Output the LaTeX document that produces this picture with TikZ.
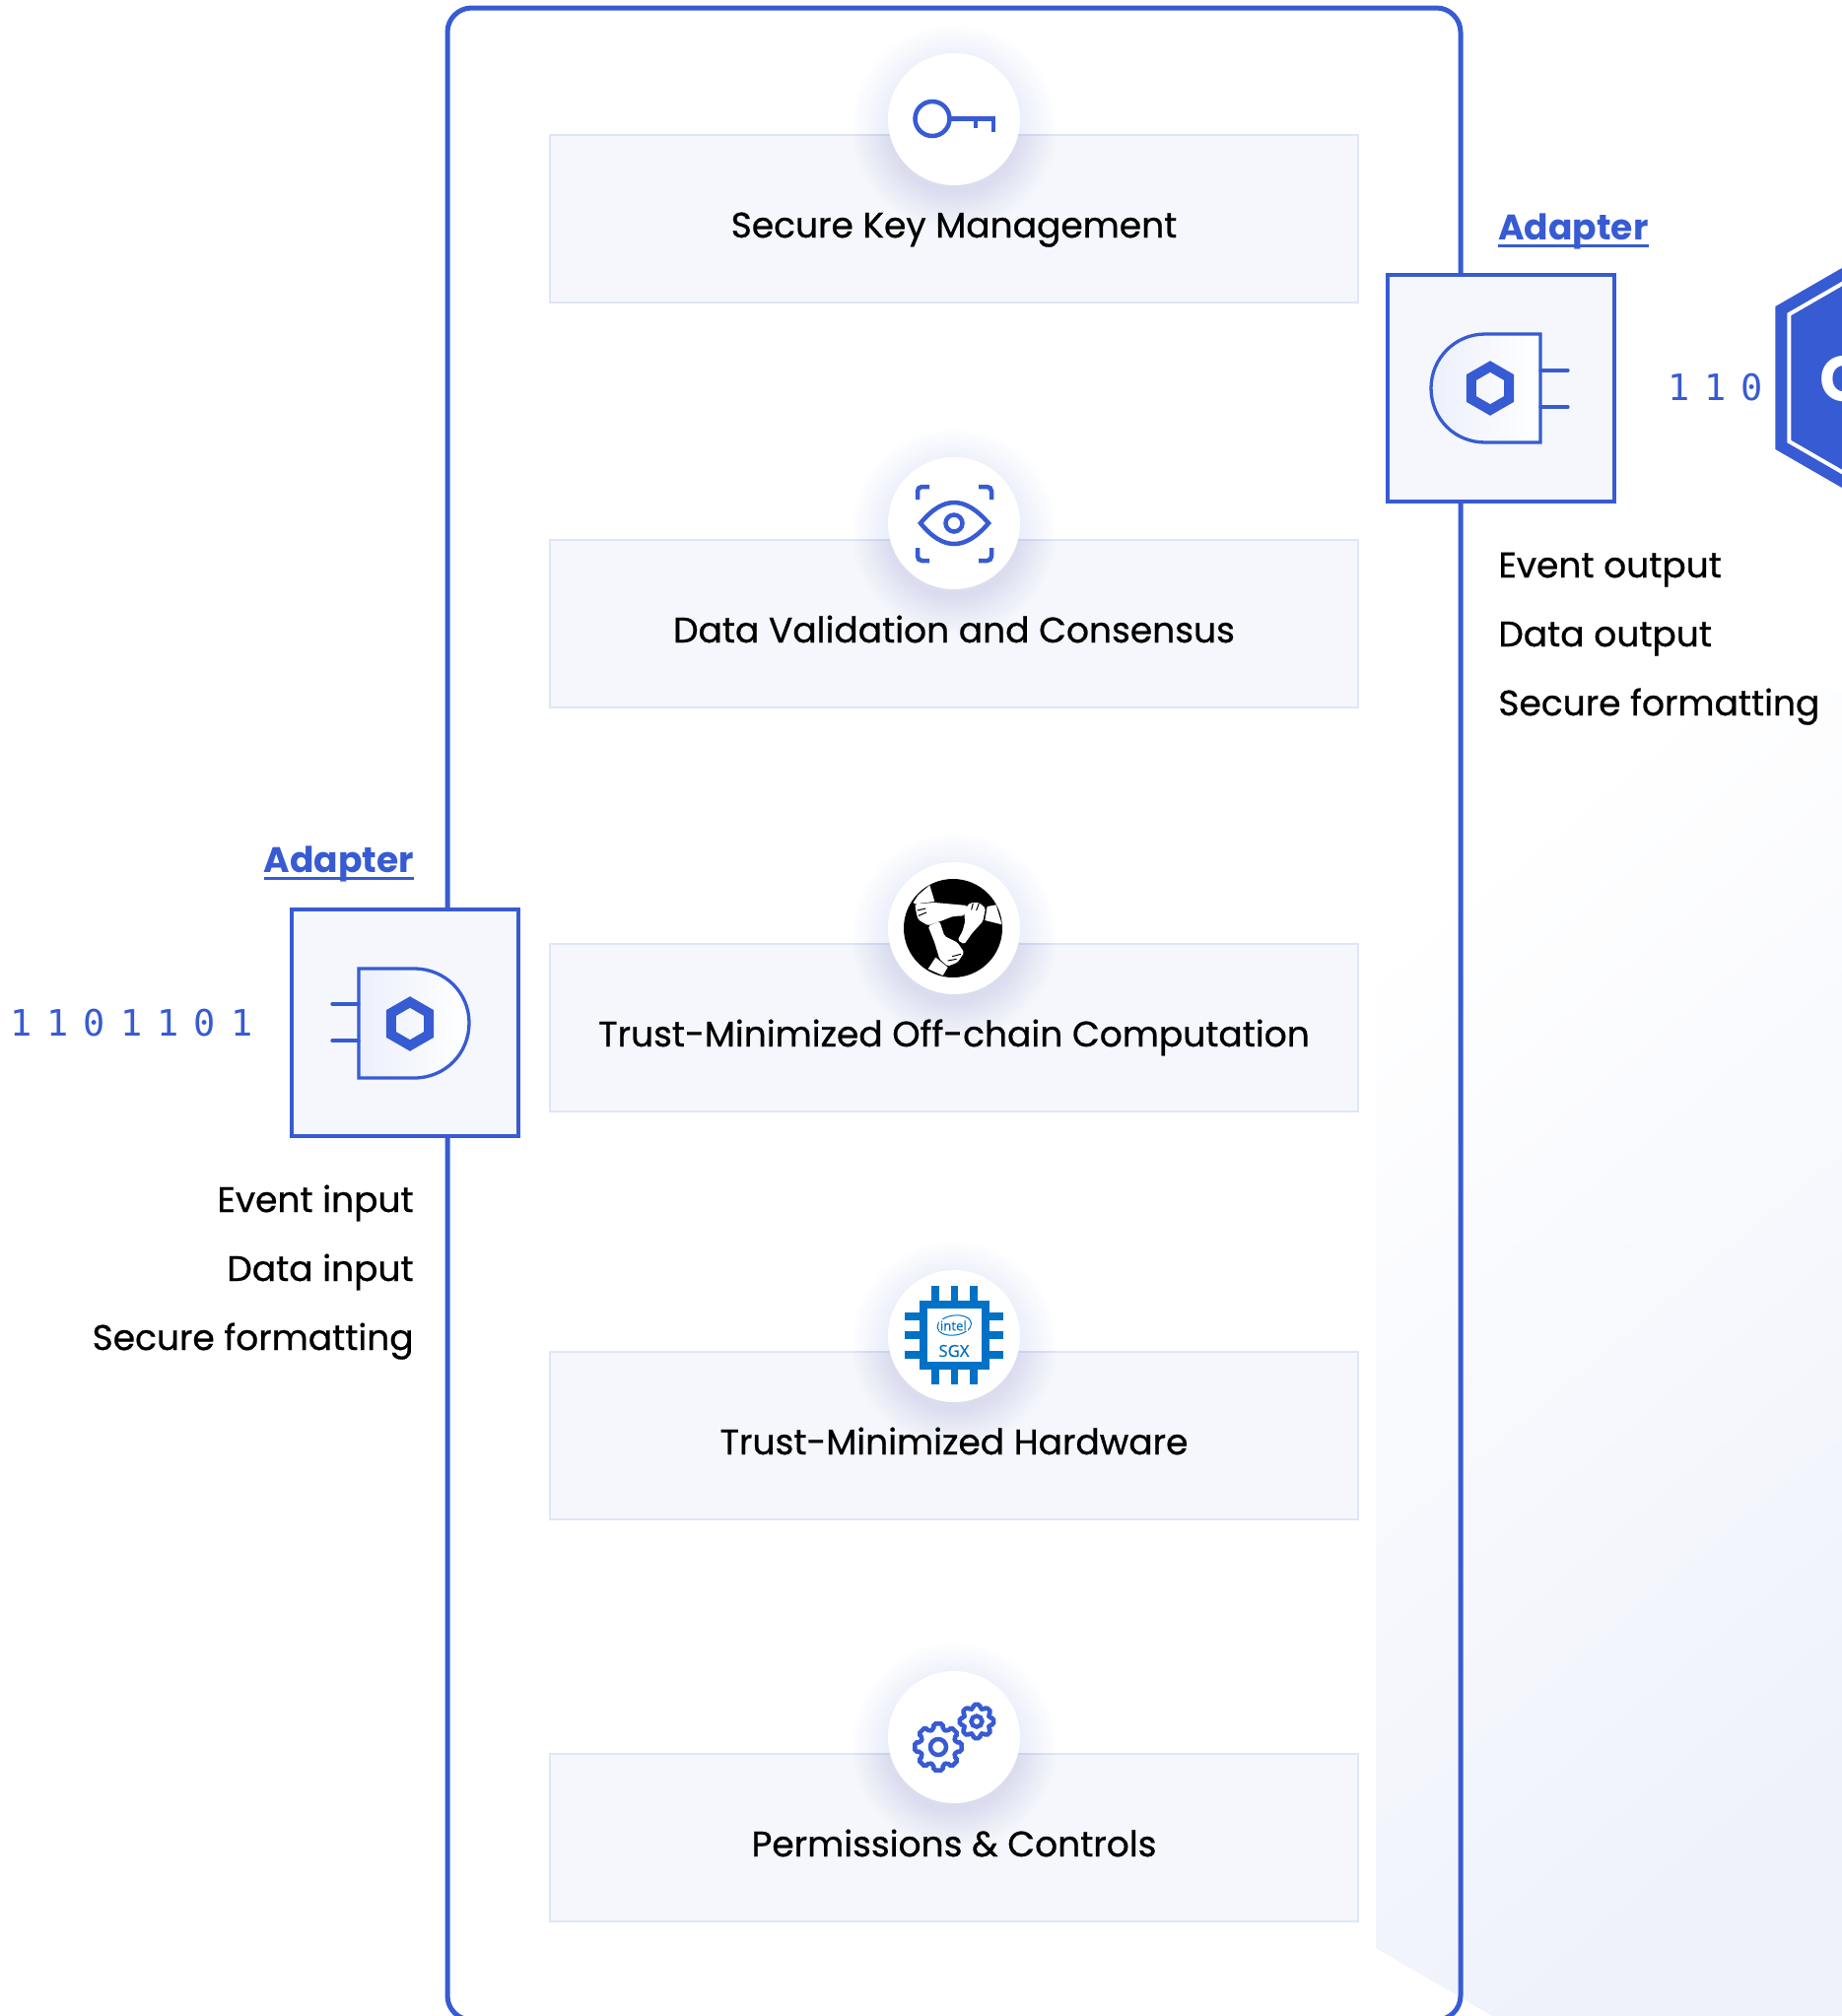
\documentclass[tikz,border=0pt]{standalone}
\usepackage{fontspec}
\usepackage{xcolor}
\usepackage{tikz}
\usetikzlibrary{shapes.geometric}
\setmainfont{Poppins}[UprightFeatures={FakeBold=0.7}]
\newfontfamily\digitfont[WordSpace=0.68]{DejaVu Sans Mono}
\newfontfamily\chipfont[FakeBold=0.5]{Open Sans}
\definecolor{linkblue}{HTML}{375BD2}
\definecolor{panelfill}{HTML}{F5F7FC}
\definecolor{panelline}{HTML}{DFE6F8}
\definecolor{plugfill}{HTML}{ECF0FB}
\definecolor{bgend}{HTML}{EFF2FB}
\definecolor{chipblue}{HTML}{0071C5}
\def\px{0.02cm}
\newcommand{\labelsize}{\fontsize{20.5}{24}\selectfont}
\tikzset{
    panelbox/.style={draw=panelline,fill=panelfill,line width=2*\px,inner sep=0pt,align=center,
        minimum width=820*\px,text height=104*\px,text depth=66*\px,font=\labelsize},
    iconcirc/.style={circle,fill=white,minimum size=134*\px,inner sep=0pt},
    adapterbox/.style={draw=linkblue,fill=panelfill,line width=4*\px,minimum size=230*\px,inner sep=0pt},
    adaptername/.style={inner sep=0pt,text=linkblue,font=\labelsize\bfseries},
    sidetext/.style={inner sep=0pt,font=\labelsize},
    bits/.style={inner sep=0pt,text=linkblue,font=\fontsize{21}{24}\selectfont\digitfont},
    smallhex/.style={regular polygon,regular polygon sides=6,shape border rotate=30,draw=linkblue,
        line width=10*\px,minimum size=44*\px,inner sep=0pt},
    iconline/.style={draw=linkblue,line width=4.5*\px},
    plugline/.style={draw=linkblue,line width=3.3*\px}
}
\newcommand{\softshadow}[2]{
    \foreach \rr in {68,71,...,104} {
        \fill[linkblue,opacity=0.006] (#1,#2+8) circle (\rr);
    }
}
\newcommand{\gearicon}[4]{
    \begin{scope}[shift={(#1,#2)}]
        \draw[iconline,rounded corners=1pt] (-79:#3) -- (-75:#4) -- (-60:#4) -- (-56:#3)
            \foreach \aa in {45,90,...,315} {
                -- (\aa-79:#3) -- (\aa-75:#4) -- (\aa-60:#4) -- (\aa-56:#3)
            } -- cycle;
    \end{scope}
}
\begin{document}
\begin{tikzpicture}[x=\px,y=-\px]
    \useasboundingbox (0,0) rectangle (1869,2046);
    \clip (0,0) rectangle (1869,2046);

    % background
    \shade[top color=white,bottom color=bgend,shading angle=40]
        (1396,700) -- (1869,700) -- (1869,2046) -- (1514,2046) -- (1396,1977) -- cycle;

    % frame
    \draw[draw=linkblue,line width=5*\px,rounded corners=14pt] (454,8) rectangle (1482,2050);

    % panels
    \node[panelbox] (keybox) at (968,222) {Secure Key Management};
    \node[panelbox] (databox) at (968,633) {Data Validation and Consensus};
    \node[panelbox] (compbox) at (968,1043) {Trust-Minimized Off-chain Computation};
    \node[panelbox] (hardbox) at (968,1457) {Trust-Minimized Hardware};
    \node[panelbox] (permbox) at (968,1865) {Permissions \& Controls};

    % icon circles
    \softshadow{968}{121}
    \softshadow{968}{531}
    \softshadow{968}{942}
    \softshadow{968}{1356}
    \softshadow{968}{1763}
    \node[iconcirc] (keycirc) at (968,121) {};
    \node[iconcirc] (eyecirc) at (968,531) {};
    \node[iconcirc] (handcirc) at (968,942) {};
    \node[iconcirc] (chipcirc) at (968,1356) {};
    \node[iconcirc] (gearcirc) at (968,1763) {};

    % key
    \draw[iconline] (946,120.5) circle (17.5);
    \draw[iconline] (964,120.5) -- (1008,120.5) -- (1008,134);
    \draw[iconline] (990,120.5) -- (990,130);

    % eye
    \draw[iconline] (934,531) .. controls (957,503) and (979,503) .. (1003,531)
        .. controls (979,559) and (957,559) .. (934,531) -- cycle;
    \draw[iconline] (968,531) circle (8.5);
    \draw[iconline,rounded corners=2.5pt] (943,494) -- (931,494) -- (931,507);
    \draw[iconline,rounded corners=2.5pt] (993,494) -- (1006,494) -- (1006,507);
    \draw[iconline,rounded corners=2.5pt] (943,569) -- (931,569) -- (931,556);
    \draw[iconline,rounded corners=2.5pt] (993,569) -- (1006,569) -- (1006,556);

    % hands
    \fill[black] (967,942) circle (50);
    \begin{scope}[shift={(860,860)},x=\px/3,y=-\px/3]
        \fill[white] (200,168) -- (215,145) -- (250,115) -- (265,165) -- (205,172) -- cycle;
        \fill[white,rounded corners=1pt] (205,172) -- (265,168) -- (365,177) -- (355,208) -- (320,210) -- (290,222)
            -- (245,238) -- (215,220) -- (208,195) -- cycle;
        \fill[white] (425,180) -- (452,175) -- (470,235) -- (418,222) -- cycle;
        \fill[white,rounded corners=1pt] (362,180) -- (375,168) -- (400,168) -- (420,185) -- (412,225) -- (380,260)
            -- (355,295) -- (335,282) -- (350,255) -- (358,225) -- (355,205) -- cycle;
        \fill[white,rounded corners=1pt] (245,240) -- (280,225) -- (295,270) -- (335,290) -- (355,320) -- (335,350)
            -- (305,362) -- (280,340) -- (265,290) -- cycle;
        \fill[white] (268,335) -- (305,365) -- (290,390) -- (245,370) -- cycle;
        \draw[black,line width=1*\px] (212,192) -- (238,186);
        \draw[black,line width=1*\px] (216,208) -- (240,198);
        \draw[black,line width=1*\px] (382,170) -- (377,190);
        \draw[black,line width=1*\px] (400,170) -- (392,192);
        \draw[black,line width=1*\px] (318,332) -- (345,325);
        \draw[black,line width=1*\px] (305,345) -- (332,340);
    \end{scope}

    % chip
    \begin{scope}[shift={(860,1280)},x=\px/3,y=-\px/3]
        \foreach \pp in {255,314,372} {
            \fill[chipblue] (\pp,76) rectangle (\pp+23,376);
        }
        \foreach \pp in {156,214,272} {
            \fill[chipblue] (174,\pp) rectangle (475,\pp+24);
        }
        \fill[chipblue] (218,120) rectangle (432,330);
        \fill[white] (243,145) rectangle (408,305);
        \draw[chipblue,line width=1*\px,rotate around={8:(325,195)}] (325,195) ellipse (52 and 30);
        \node[fill=white,inner sep=0.5pt,text=chipblue,font=\fontsize{7.5}{8}\selectfont\chipfont] (inteltext) at (322,196) {intel};
        \node[inner sep=0pt,text=chipblue,font=\fontsize{9.5}{10}\selectfont\chipfont] (sgxtext) at (324,273) {SGX};
    \end{scope}

    % gears
    \gearicon{952}{1773}{24}{18.5}
    \draw[iconline] (952,1773) circle (8);
    \gearicon{991}{1747}{17.5}{13.5}
    \draw[iconline] (991,1747) circle (5.5);

    % left adapter
    \node[adapterbox] (leftbox) at (411,1038) {};
    \node[adaptername] (leftname) at (344,885) [anchor=base] {Adapter};
    \draw[linkblue,line width=3*\px] ([yshift=-3.5pt]leftname.base west) -- ([yshift=-3.5pt]leftname.base east);
    \draw[plugline,left color=plugfill,right color=white] (364,983) -- (420,983)
        .. controls (452,983) and (476,1008) .. (476,1038)
        .. controls (476,1069) and (452,1094) .. (420,1094) -- (364,1094) -- cycle;
    \draw[plugline,line cap=round] (337,1019) -- (364,1019);
    \draw[plugline,line cap=round] (337,1056) -- (364,1056);
    \node[smallhex] (lefthex) at (416,1039) {};
    \node[bits,anchor=base west] (leftbits) at (10,1051) {1 1 0 1 1 0 1};
    \node[sidetext,anchor=base east] (evin) at (420,1230) {Event input};
    \node[sidetext,anchor=base east] (datain) at (420,1300) {Data input};
    \node[sidetext,anchor=base east] (fmtin) at (420,1370) {Secure formatting};

    % right adapter
    \node[adapterbox] (rightbox) at (1523,394) {};
    \node[adaptername,anchor=base west] (rightname) at (1520,243) {Adapter};
    \draw[linkblue,line width=3*\px] ([yshift=-3.5pt]rightname.base west) -- ([yshift=-3.5pt]rightname.base east);
    \draw[plugline,left color=plugfill,right color=white] (1563,339) -- (1507,339)
        .. controls (1476,339) and (1452,364) .. (1452,394)
        .. controls (1452,425) and (1476,449) .. (1507,449) -- (1563,449) -- cycle;
    \draw[plugline,line cap=round] (1563,376) -- (1591,376);
    \draw[plugline,line cap=round] (1563,413) -- (1591,413);
    \node[smallhex] (righthex) at (1512,394) {};
    \node[bits,anchor=base west] (rightbits) at (1692,406) {1 1 0};
    \node[sidetext,anchor=base west] (evout) at (1520,586) {Event output};
    \node[sidetext,anchor=base west] (dataout) at (1520,656) {Data output};
    \node[sidetext,anchor=base west] (fmtout) at (1520,726) {Secure formatting};

    % big hexagon
    \node[regular polygon,regular polygon sides=6,shape border rotate=30,fill=linkblue,
        minimum size=290*\px,inner sep=0pt,outer sep=0pt] (bighex) at (1927,383.5) {};
    \node[regular polygon,regular polygon sides=6,shape border rotate=30,fill=linkblue,draw=white,
        line width=4*\px,minimum size=258*\px,inner sep=0pt,outer sep=0pt] (innerhex) at (1927,383.5) {};
    \node[anchor=west,inner sep=0pt,text=white,font=\fontsize{37}{40}\selectfont\bfseries] (hexletter) at (1846,385) {C};
\end{tikzpicture}
\end{document}
